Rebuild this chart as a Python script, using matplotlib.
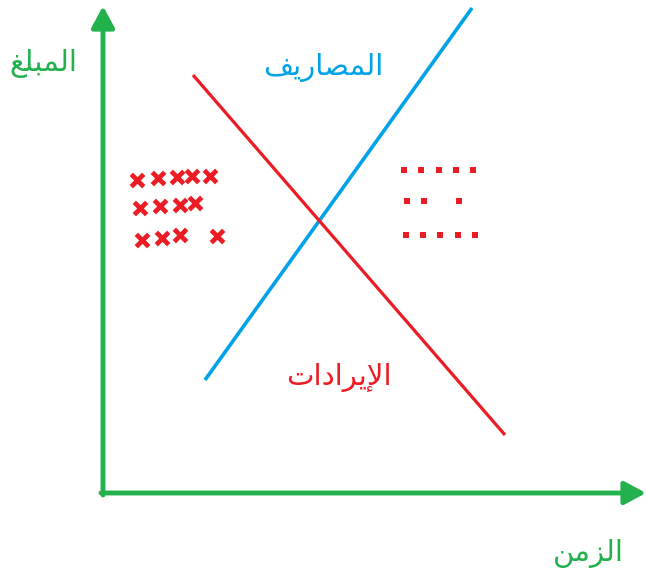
import matplotlib
matplotlib.use("Agg")
import matplotlib.pyplot as plt

# colours of the paint sketch
GREEN = "#22b14c"
BLUE = "#00a2e8"
RED = "#ed1c24"

# labels
y_label = "المبلغ"
x_label = "الزمن"
cost_label = "المصاريف"
rev_label = "الإيرادات"

# lines (pixel space of the sketch, y grows downward)
cost_x = [205, 472]
cost_y = [380, 8]
rev_x = [193, 505]
rev_y = [75, 435]

# the red crosses
cross_x = [137, 158, 177, 192, 210, 140, 160, 180, 195, 142, 162, 180, 217]
cross_y = [180, 178, 177, 176, 176, 208, 206, 205, 203, 240, 238, 235, 236]

# the red dots
dot_x = [404, 421, 439, 456, 473, 407, 424, 459, 406, 423, 440, 458, 475]
dot_y = [170, 170, 170, 170, 170, 201, 201, 201, 235, 235, 235, 235, 235]

# minimal arabic shaping (matplotlib has no shaper)
FORMS = {
    "ا": ("\ufe8d", "\ufe8e", None, None),
    "إ": ("\ufe87", "\ufe88", None, None),
    "ل": ("\ufedd", "\ufede", "\ufedf", "\ufee0"),
    "م": ("\ufee1", "\ufee2", "\ufee3", "\ufee4"),
    "ب": ("\ufe8f", "\ufe90", "\ufe91", "\ufe92"),
    "غ": ("\ufecd", "\ufece", "\ufecf", "\ufed0"),
    "ص": ("\ufeb9", "\ufeba", "\ufebb", "\ufebc"),
    "ر": ("\ufead", "\ufeae", None, None),
    "ي": ("\ufef1", "\ufef2", "\ufef3", "\ufef4"),
    "ف": ("\ufed1", "\ufed2", "\ufed3", "\ufed4"),
    "د": ("\ufea9", "\ufeaa", None, None),
    "ت": ("\ufe95", "\ufe96", "\ufe97", "\ufe98"),
    "ز": ("\ufeaf", "\ufeb0", None, None),
    "ن": ("\ufee5", "\ufee6", "\ufee7", "\ufee8"),
}
LAM_ALEF = {"ا": ("\ufefb", "\ufefc"), "إ": ("\ufef9", "\ufefa")}


def dual(c):
    return c in FORMS and FORMS[c][2] is not None


def shape(s):
    out = []
    i = 0
    prev_joins = False
    while i < len(s):
        c = s[i]
        nxt = s[i + 1] if i + 1 < len(s) else None
        if c == "ل" and nxt in LAM_ALEF:
            out.append(LAM_ALEF[nxt][1 if prev_joins else 0])
            prev_joins = False
            i += 2
            continue
        f = FORMS[c]
        join_next = dual(c) and nxt in FORMS
        if prev_joins and join_next:
            g = f[3]
        elif prev_joins:
            g = f[1]
        elif join_next:
            g = f[2]
        else:
            g = f[0]
        out.append(g)
        prev_joins = join_next
        i += 1
    return "".join(out)[::-1]


fig = plt.figure(figsize=(6.46, 5.71), dpi=100)
ax = fig.add_axes([0, 0, 1, 1])
ax.set_xlim(0, 646)
ax.set_ylim(571, 0)
ax.axis("off")

# axes arrows
ax.annotate("", xy=(103, 6), xytext=(103, 495),
            arrowprops=dict(arrowstyle="-|>,head_length=1.3,head_width=0.7",
                            color=GREEN, lw=3.5, shrinkA=0, shrinkB=0))
ax.annotate("", xy=(646, 493), xytext=(101, 493),
            arrowprops=dict(arrowstyle="-|>,head_length=1.3,head_width=0.7",
                            color=GREEN, lw=3.5, shrinkA=0, shrinkB=0))

ax.plot(cost_x, cost_y, color=BLUE, lw=2.6, solid_capstyle="butt")
ax.plot(rev_x, rev_y, color=RED, lw=2.3, solid_capstyle="butt")

ax.scatter(cross_x, cross_y, marker="x", s=80, color=RED, linewidths=3.4)
ax.scatter(dot_x, dot_y, marker="s", s=16, color=RED, linewidths=0)

fs = 21
ax.text(43, 64, shape(y_label), color=GREEN, fontsize=fs, ha="center", va="center",
        family="DejaVu Sans")
ax.text(323, 67, shape(cost_label), color=BLUE, fontsize=fs, ha="center", va="center",
        family="DejaVu Sans")
ax.text(339, 377, shape(rev_label), color=RED, fontsize=fs, ha="center", va="center",
        family="DejaVu Sans")
ax.text(588, 553, shape(x_label), color=GREEN, fontsize=fs, ha="center", va="center",
        family="DejaVu Sans")

fig.savefig("out.png", dpi=100)
